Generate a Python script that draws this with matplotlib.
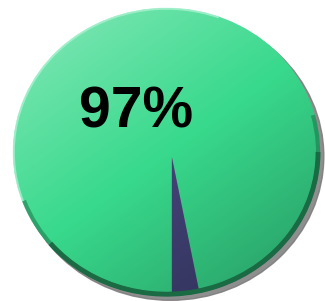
import matplotlib.pyplot as plt
import numpy as np
from matplotlib.patches import Ellipse, Arc

# Datos del grafico
etiquetas = ['Si', 'No']
valores = [97, 3]
colores = ['#38d98c', '#434378']
texto = '97%'

W, H = 325, 301
fig = plt.figure(figsize=(W / 100, H / 100), dpi=100)

# Ejes ajustados al elipse (pixeles)
izq, der, arr, aba = 13, 320, 8, 296
ax = fig.add_axes([izq / W, (H - aba) / H, (der - izq) / W, (aba - arr) / H])

# Sombra gris
ax.add_patch(Ellipse((0.025, -0.03), 2, 2, color='#7a7a7a', alpha=0.85, zorder=0, clip_on=False))

inicio = 270 - 360 * valores[0] / sum(valores)
cunas, _ = ax.pie(valores, colors=colores, startangle=inicio, counterclock=True,
                  center=(0.035, -0.035), radius=1.15, frame=True,
                  wedgeprops=dict(linewidth=0, zorder=1))
ax.set_xlim(-1, 1)
ax.set_ylim(-1, 1)
ax.set_aspect('auto')
ax.axis('off')

borde = Ellipse((0, 0), 2, 2, facecolor='none', edgecolor='none')
ax.add_patch(borde)
for c in cunas:
    c.set_clip_on(True)  # pie los crea sin recorte
    c.set_clip_path(borde)

# Degradado: claro arriba-izquierda, oscuro abajo-derecha
xx, yy = np.meshgrid(np.linspace(-1, 1, 300), np.linspace(1, -1, 300))
t = (xx - 1.3 * yy) / 2.3
rgba = np.zeros((300, 300, 4))
claro = t < 0
rgba[claro, :3] = 1.0
rgba[claro, 3] = np.clip(-t[claro] * 0.4, 0, 0.4)
rgba[~claro, 3] = np.clip(t[~claro] * 0.3, 0, 0.3)
img = ax.imshow(rgba, extent=(-1, 1, -1, 1), aspect='auto', zorder=2)
img.set_clip_path(borde)

# Borde oscuro abajo-derecha (con extremos suaves) y claro arriba-izquierda
ax.add_patch(Arc((0, 0), 1.975, 1.975, theta1=-140, theta2=0, color='#1a6a44',
                 lw=3.5, zorder=3, clip_on=False))
ax.add_patch(Arc((0, 0), 1.975, 1.975, theta1=-160, theta2=15, color='#1a6a44',
                 lw=3.0, alpha=0.5, zorder=3, clip_on=False))
ax.add_patch(Arc((0, 0), 1.99, 1.99, theta1=70, theta2=200, color='#b5f3d6',
                 lw=1.5, alpha=0.7, zorder=3, clip_on=False))

ax.text((136 - izq) / (der - izq), (aba - 113) / (aba - arr), texto,
        transform=ax.transAxes, ha='center', va='center',
        fontsize=41, fontweight='bold', family=['Liberation Sans', 'DejaVu Sans'],
        color='black', zorder=4)

plt.savefig('out.png', dpi=100)
